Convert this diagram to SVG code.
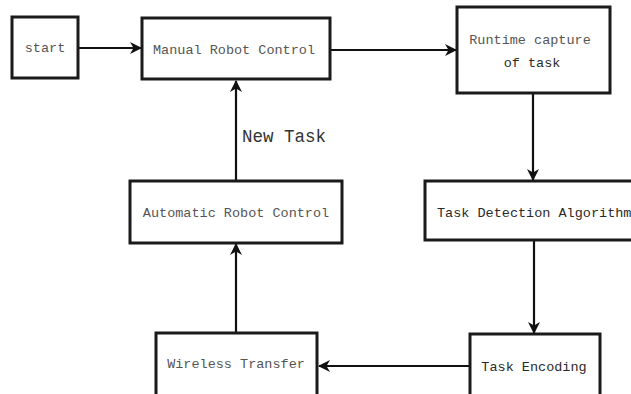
<svg xmlns="http://www.w3.org/2000/svg" width="631" height="394" viewBox="0 0 631 394">
<style>
.box{fill:#fff;stroke:#1a1a1a;stroke-width:3}
.t{font-family:"Liberation Mono","Courier New",monospace;font-size:13.5px;fill:#555}
.d{fill:#2a2a2a}
.lbl{font-family:"Liberation Mono","Courier New",monospace;font-size:17.5px;fill:#333}
.c{fill:none;stroke:#111;stroke-width:2.2}
</style>
<defs>
<marker id="ah" viewBox="0 0 12 12" refX="11" refY="6" markerWidth="12" markerHeight="12" markerUnits="userSpaceOnUse" orient="auto">
<path d="M0,0 L12,6 L0,12 L3.5,6 z" fill="#111"/>
</marker>
</defs>
<rect width="631" height="394" fill="#fff"/>
<g id="connectors">
<line class="c" x1="78" y1="48" x2="141" y2="48" marker-end="url(#ah)"/>
<line class="c" x1="330" y1="50" x2="456" y2="50" marker-end="url(#ah)"/>
<line class="c" x1="533" y1="93" x2="533" y2="180" marker-end="url(#ah)"/>
<line class="c" x1="534" y1="240" x2="534" y2="333" marker-end="url(#ah)"/>
<line class="c" x1="470" y1="366" x2="319" y2="366" marker-end="url(#ah)"/>
<line class="c" x1="236" y1="333" x2="236" y2="244" marker-end="url(#ah)"/>
<line class="c" x1="236" y1="181" x2="236" y2="81" marker-end="url(#ah)"/>
<text class="lbl" x="242" y="142">New Task</text>
</g>
<g id="start">
<rect class="box" x="12" y="17" width="66" height="61"/>
<text class="t" x="45" y="52" text-anchor="middle">start</text>
</g>
<g id="manual">
<rect class="box" x="142" y="18" width="188" height="61"/>
<text class="t" x="234" y="54" text-anchor="middle">Manual Robot Control</text>
</g>
<g id="runtime">
<rect class="box" x="457" y="7" width="153" height="86"/>
<text class="t" x="530" y="44" text-anchor="middle">Runtime capture</text>
<text class="t d" x="532" y="67" text-anchor="middle">of task</text>
</g>
<g id="detection">
<rect class="box" x="425" y="181" width="220" height="59"/>
<text class="t d" x="437" y="217">Task Detection Algorithm</text>
</g>
<g id="encoding">
<rect class="box" x="470" y="334" width="130" height="70"/>
<text class="t d" x="534" y="371" text-anchor="middle">Task Encoding</text>
</g>
<g id="wireless">
<rect class="box" x="156" y="333" width="161" height="70"/>
<text class="t" x="236" y="368" text-anchor="middle">Wireless Transfer</text>
</g>
<g id="automatic">
<rect class="box" x="130" y="181" width="212" height="62"/>
<text class="t" x="236" y="217" text-anchor="middle">Automatic Robot Control</text>
</g>
</svg>
